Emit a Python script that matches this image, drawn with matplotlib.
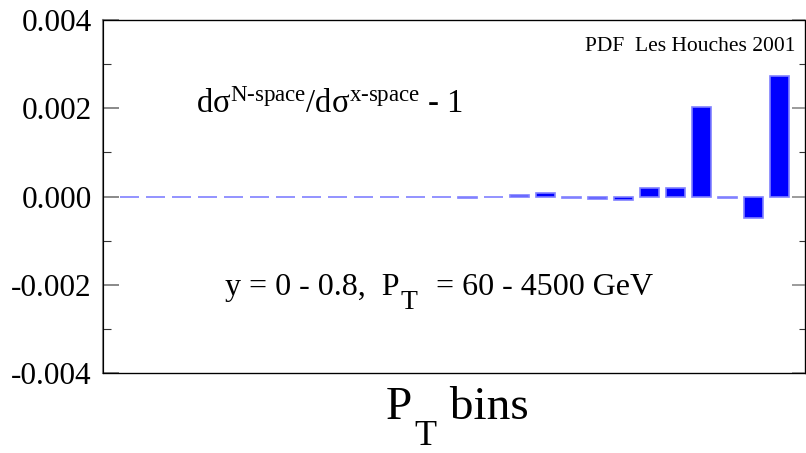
import matplotlib
matplotlib.use('Agg')
import matplotlib.pyplot as plt
import numpy as np

# relative difference per P_T bin (N-space vs x-space)
bins = list(range(26))
diff = [0, 0, 0, 0, 0, 0, 0, 0, 0, 0, 0, 0, 0,
        -0.00003, 0, 0.00003, 0.00008, -0.00003, -0.00006, -0.00008,
        0.0002, 0.0002, 0.00204, -0.00003, -0.00049, 0.00272]
yticks = [-0.004, -0.002, 0.0, 0.002, 0.004]

plt.rcParams['font.family'] = 'Liberation Serif'
plt.rcParams['mathtext.fontset'] = 'custom'
plt.rcParams['mathtext.rm'] = 'Liberation Serif'
plt.rcParams['mathtext.it'] = 'Liberation Serif:italic'
plt.rcParams['axes.unicode_minus'] = False

W, H = 806, 453
fig = plt.figure(figsize=(W / 100, H / 100), dpi=100)
ax = fig.add_axes([0.1278, 0.1766, 0.8712, 0.7792])

ax.bar(bins, diff, width=0.73, color='#0000ff', edgecolor='#8080ff', linewidth=1.2)

ax.set_xlim(-1.02, 26.0)
ax.set_ylim(-0.004, 0.004)
ax.set_xticks([])
ax.set_yticks(yticks)
ax.set_yticklabels(['%.3f' % v for v in yticks])
ax.set_yticks(np.arange(-0.003, 0.0031, 0.002), minor=True)
ax.tick_params(axis='y', which='major', direction='in', length=11.5, width=1.3,
               color='#808080', labelsize=22.5, pad=8)
ax.tick_params(axis='y', which='minor', direction='in', length=6, width=0.8, color='#333333')

for s in ['top', 'bottom']:
    ax.spines[s].set_linewidth(0.9)
ax.spines['left'].set_color('#808080')
ax.spines['left'].set_linewidth(1.5)
ax.spines['right'].set_linewidth(0.9)

# right side ticks, shorter
ax2 = ax.twinx()
ax2.set_ylim(ax.get_ylim())
ax2.set_yticks(yticks)
ax2.set_yticklabels([])
ax2.set_yticks(np.arange(-0.003, 0.0031, 0.002), minor=True)
ax2.tick_params(axis='y', which='major', direction='in', length=9.5, width=1.1, color='#808080')
ax2.tick_params(axis='y', which='minor', direction='in', length=4, width=0.8, color='#333333')
ax2.set_xticks([])


def runs_text(x, y, runs, center=False):
    # put pieces of text one after another (pixel coords, y from top)
    r = fig.canvas.get_renderer()
    made = []
    cx = x
    for s, size, dx, dy in runs:
        cx += dx
        t = fig.text(cx / W, 1 - (y + dy) / H, s, fontsize=size, va='baseline', ha='left')
        cx += t.get_window_extent(r).width
        made.append(t)
    if center:
        shift = (cx - x) / 2
        for t in made:
            px, py = t.get_position()
            t.set_position((px - shift / W, py))


ax.text(0.1325, 0.7365, r'd$\mathrm{\sigma}^{\mathrm{N\text{-}space}}$/d$\mathrm{\sigma}^{\mathrm{x\text{-}space}}$ - 1',
        transform=ax.transAxes, fontsize=23.5, va='baseline', ha='left')

runs_text(225, 295, [('y = 0 - 0.8,  P', 23, 0, 0),
                     ('T', 20, 1, 14),
                     ('  = 60 - 4500 GeV', 23, 3, 0)])

ax.text(0.9857, 0.913, 'PDF  Les Houches 2001', transform=ax.transAxes,
        fontsize=15.5, va='baseline', ha='right')

runs_text(457, 419, [('P', 34, 0, 0), ('T', 26, 3, 26), (' bins', 34, 1, 0)], center=True)

fig.savefig('out.png', dpi=100)
